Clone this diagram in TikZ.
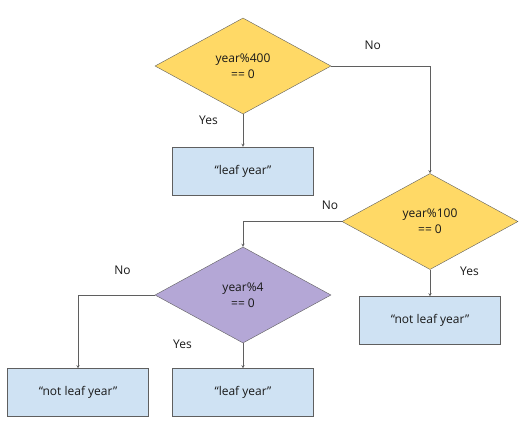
\documentclass[tikz,border=0pt]{standalone}
\usepackage{fontspec}
\setmainfont{Open Sans}
\usepackage{tikz}
\usetikzlibrary{shapes.geometric, arrows, positioning}
\definecolor{condyellow}{HTML}{FFD966}
\definecolor{condpurple}{HTML}{B4A7D6}
\definecolor{resblue}{HTML}{CFE2F3}
\definecolor{edgegray}{HTML}{5F5F5F}
\tikzstyle{decision} = [diamond, minimum width=176pt, minimum height=96pt, inner sep=0pt, text centered, align=center, draw=edgegray, fill=condyellow]
\tikzstyle{decision1} = [decision, fill=condpurple]
\tikzstyle{result} = [rectangle, minimum width=141pt, minimum height=48pt, text centered, draw=edgegray, fill=resblue]
\tikzstyle{arrow} = [draw=edgegray, ->, >=stealth]
\tikzstyle{lbl} = [text=black!90, inner sep=1pt]

\begin{document}
\begin{tikzpicture}[x=1pt, y=1pt, node distance=100pt, font=\fontsize{12}{16}\selectfont, text=black!90]
    \useasboundingbox[fill=white] (-243,66) rectangle (286,-366);
    \node (dec400) [decision] at (0,0) {year\%400\\== 0};
    \node (leaf1) [result, below of = dec400, yshift=-5pt] {“leaf year”};
    \node (dec100) [decision, right of = dec400, xshift=87pt, yshift=-155.5pt] {year\%100\\== 0};
    \node (notleaf1) [result, below of = dec100, yshift=1pt] {“not leaf year”};
    \node (dec4) [decision1, left of = dec100, xshift=-87pt, yshift=-73.5pt] {year\%4\\== 0};
    \node (leaf2) [result, below of = dec4, yshift=2.5pt] {“leaf year”};
    \node (notleaf2) [result, left of = leaf2, xshift=-65pt] {“not leaf year”};
    \draw[arrow] (dec400) -- (leaf1) node[lbl, pos=0.2, left=24pt] (yes400) {Yes};
    \draw[arrow] (dec400.east) -| (dec100.north) node[lbl, pos=0.21, above=15pt] (no400) {No};
    \draw[arrow] (dec100) -- (notleaf1) node[lbl, pos=0.05, right=29pt] (yes100) {Yes};
    \draw[arrow] (dec100.west) -| (dec4.north) node[lbl, pos=0.06, above=11pt] (no100) {No};
    \draw[arrow] (dec4) -- (leaf2) node[lbl, pos=0.05, left=50pt] (yes4) {Yes};
    \draw[arrow] (dec4.west) -| (notleaf2.north) node[lbl, pos=0.21, above=19pt] (no4) {No};
\end{tikzpicture}
\end{document}
